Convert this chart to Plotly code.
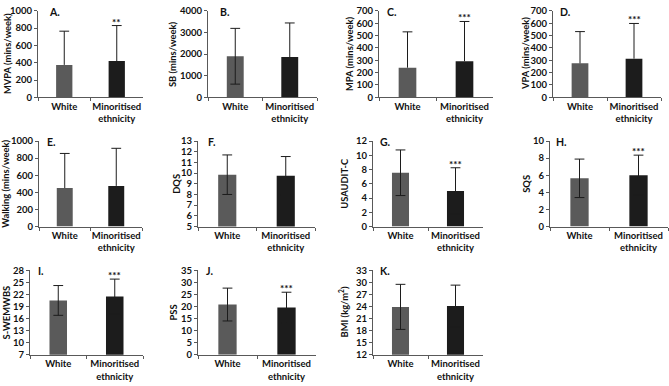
import plotly.graph_objects as go

W, H = 669, 386

# ---------------- data ----------------
categories = ["White", "Minoritised ethnicity"]
category_labels = ["White", "Minoritised<br>ethnicity"]
panel_letters = ["A.", "B.", "C.", "D.", "E.", "F.", "G.", "H.", "I.", "J.", "K."]
y_titles = ["MVPA (mins/week)", "SB (mins/week)", "MPA (mins/week)", "VPA (mins/week)",
            "Walking (mins/week)", "DQS", "USAUDIT-C", "SQS",
            "S-WEMWBS", "PSS", "BMI (kg/m<sup>2</sup>)"]
white_mean = [375, 1900, 240, 275, 450, 9.85, 7.55, 5.64, 20.5, 20.8, 23.9]
white_sd = [390, 1290, 290, 257, 405, 1.85, 3.2, 2.25, 3.7, 6.8, 5.6]
minor_mean = [420, 1870, 292, 313, 475, 9.75, 5.0, 6.0, 21.5, 19.6, 24.1]
minor_sd = [410, 1570, 322, 285, 440, 1.8, 3.25, 2.35, 4.3, 6.3, 5.2]
two_sided_err = [False, True, False, False, False, True, True, True, True, True, True]
significance = ["**", "", "***", "***", "", "", "***", "***", "***", "***", ""]
y_min = [0, 0, 0, 0, 0, 5, 0, 0, 7, 0, 12]
y_max = [1000, 4000, 700, 700, 1000, 13, 12, 10, 28, 35, 33]
y_step = [200, 1000, 100, 100, 200, 1, 2, 2, 3, 5, 3]

# ---------------- layout geometry (pixels) ----------------
x_dom_px = [(38, 143), (208, 317), (379, 493), (553, 661),
            (39, 142), (198, 315), (373, 483), (550, 668),
            (30, 143), (198, 316), (373, 483)]
row_px = [(5, 94), (139, 227), (272, 359)]
panel_row = [0, 0, 0, 0, 1, 1, 1, 1, 2, 2, 2]
title_x_px = [7, 172, 349, 525, 6, 177, 345, 527, 7, 174, 344]
letter_dx = [9, 10, 6, 5, 6, 8, 5, 4, 6, 6, 5]

WHITE_COL = "#5a5a5a"
MINOR_COL = "#1c1c1c"
AXIS_COL = "#595959"
ERR_COL = "#1c1c1c"
FONT = "Lato"
fbold = dict(family=FONT, size=9.5, color="#111111", weight="bold")

fig = go.Figure()
annotations = []
layout_axes = {}

for i in range(11):
    n = "" if i == 0 else str(i + 1)
    xa, ya = "x" + n, "y" + n
    x0, x1 = x_dom_px[i]
    top, bot = row_px[panel_row[i]]
    means = [white_mean[i], minor_mean[i]]
    sds = [white_sd[i], minor_sd[i]]
    fig.add_trace(go.Bar(
        x=categories, y=means,
        marker=dict(color=[WHITE_COL, MINOR_COL], line=dict(width=0)),
        width=0.31, xaxis=xa, yaxis=ya, showlegend=False, hoverinfo="skip",
    ))
    # error bars: whisker lines + caps
    lx, ly, cx, cy = [], [], [], []
    for c, m, s in zip(categories, means, sds):
        lo = m - s if two_sided_err[i] else m
        hi = m + s
        lx += [c, c, None]
        ly += [lo, hi, None]
        cx.append(c)
        cy.append(hi)
        if two_sided_err[i]:
            cx.append(c)
            cy.append(lo)
    fig.add_trace(go.Scatter(
        x=lx, y=ly, mode="lines", line=dict(color=ERR_COL, width=1),
        xaxis=xa, yaxis=ya, showlegend=False, hoverinfo="skip",
    ))
    fig.add_trace(go.Scatter(
        x=cx, y=cy, mode="markers",
        marker=dict(symbol="line-ew", size=7, line=dict(color=ERR_COL, width=1)),
        xaxis=xa, yaxis=ya, showlegend=False, hoverinfo="skip",
    ))
    layout_axes["xaxis" + n] = dict(
        domain=[x0 / W, x1 / W], anchor=ya, type="category",
        categoryorder="array", categoryarray=categories,
        tickmode="array", tickvals=categories, ticktext=category_labels,
        tickangle=0,
        ticks="outside", tickson="boundaries", ticklen=3, tickcolor=AXIS_COL,
        showline=True, linecolor=AXIS_COL, linewidth=1, showgrid=False,
        zeroline=False, tickfont=fbold, fixedrange=True,
    )
    layout_axes["yaxis" + n] = dict(
        domain=[1 - bot / H, 1 - top / H], anchor=xa,
        range=[y_min[i], y_max[i]], tick0=y_min[i], dtick=y_step[i],
        tickmode="linear", ticks="outside", ticklen=3, tickcolor=AXIS_COL,
        showline=True, linecolor=AXIS_COL, linewidth=1, showgrid=False,
        zeroline=False, tickfont=fbold, fixedrange=True,
    )
    # y-axis title
    annotations.append(dict(
        text=y_titles[i], textangle=-90, xref="paper", yref="paper",
        x=title_x_px[i] / W, y=1 - (top + bot) / 2 / H,
        xanchor="center", yanchor="middle", showarrow=False,
        font=dict(family=FONT, size=9.4, color="#111111", weight="bold"),
    ))
    # panel letter
    annotations.append(dict(
        text=panel_letters[i], xref="paper", yref="paper",
        x=(x0 + letter_dx[i]) / W, y=1 - (top + 1) / H,
        xanchor="left", yanchor="middle", showarrow=False,
        font=dict(family=FONT, size=10.5, color="#111111", weight="bold"),
    ))
    # significance stars
    if significance[i]:
        annotations.append(dict(
            text=significance[i], xref=xa, yref=ya,
            x=categories[1], y=minor_mean[i] + minor_sd[i],
            xanchor="center", yanchor="bottom", yshift=-4, showarrow=False,
            font=dict(family=FONT, size=10, color="#111111", weight="bold"),
        ))

fig.update_layout(
    width=W, height=H, margin=dict(l=0, r=0, t=0, b=0),
    paper_bgcolor="white", plot_bgcolor="white",
    annotations=annotations, bargap=0.68, **layout_axes,
)
fig.write_html(
    "out.html",
    config={"displayModeBar": False, "staticPlot": True},
    post_script="document.body.style.margin='0';document.body.style.overflow='hidden';",
)
